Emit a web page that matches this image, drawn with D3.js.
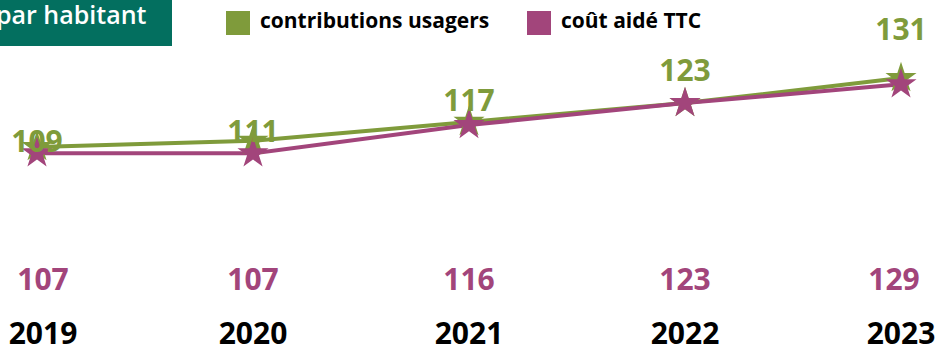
<!DOCTYPE html>
<html>
<head>
<meta charset="utf-8">
<script src="https://cdn.jsdelivr.net/npm/d3@7"></script>
<style>
  body { margin: 0; background: #fff; }
  svg { display: block; font-family: "Open Sans", sans-serif; }
</style>
</head>
<body>
<svg id="chart" width="935" height="351"></svg>
<script>
/* Data */
const years = ['2019', '2020', '2021', '2022', '2023'];
const contributions = [109, 111, 117, 123, 131];   // contributions usagers
const coutAide = [107, 107, 116, 123, 129];        // coût aidé TTC
const seriesNames = ['contributions usagers', 'coût aidé TTC'];

const green = '#7f9b3b';
const purple = '#a2457b';
const teal = '#036f5f';

const width = 935, height = 351;
const svg = d3.select('#chart');

/* Scales */
const x = d3.scalePoint().domain(years).range([37, 901]);
const y = d3.scaleLinear().domain([109, 131]).range([147, 78]);
// the value labels above the green line sit on their own spread
const labelY = d3.scaleLinear().domain(d3.extent(contributions)).range([152, 40]);

/* Title box */
svg.append('rect')
    .attr('x', 0).attr('y', 0)
    .attr('width', 172).attr('height', 46)
    .attr('fill', teal);
svg.append('text')
    .attr('x', -4).attr('y', 24)
    .attr('fill', '#fff')
    .style('font-weight', 600)
    .style('font-size', '25px')
    .text('par habitant');

/* Legend */
const legend = svg.append('g');
const legendItems = [
    { name: seriesNames[0], color: green, x: 226 },
    { name: seriesNames[1], color: purple, x: 527 }
];
legendItems.forEach(d => {
    legend.append('rect')
        .attr('x', d.x).attr('y', 11)
        .attr('width', 24).attr('height', 24)
        .attr('fill', d.color);
    legend.append('text')
        .attr('x', d.x + 34).attr('y', 28)
        .attr('fill', '#000')
        .style('font-weight', 700)
        .style('font-size', '21px')
        .text(d.name);
});

/* Lines */
const line = d3.line()
    .x((d, i) => x(years[i]))
    .y(d => y(d));

const star = d3.symbol().type(d3.symbolStar).size(300);

const drawSeries = (values, color) => {
    svg.append('path')
        .datum(values)
        .attr('d', line)
        .attr('fill', 'none')
        .attr('stroke', color)
        .attr('stroke-width', 4);
};

const drawStars = (values, color) => {
    svg.append('g').selectAll('path')
        .data(values)
        .join('path')
        .attr('transform', (d, i) => `translate(${x(years[i])},${y(d)})`)
        .attr('d', star)
        .attr('fill', color);
};

drawSeries(contributions, green);
drawSeries(coutAide, purple);
drawStars(contributions, green);
drawStars(coutAide, purple);

/* Value labels */
svg.append('g').selectAll('text')
    .data(contributions)
    .join('text')
    .attr('x', (d, i) => x(years[i]))
    .attr('y', d => labelY(d))
    .attr('text-anchor', 'middle')
    .attr('fill', green)
    .style('font-weight', 700)
    .style('font-size', '30px')
    .text(d => d);

svg.append('g').selectAll('text')
    .data(coutAide)
    .join('text')
    .attr('x', (d, i) => Math.min(Math.max(x(years[i]), 43), 894))
    .attr('y', 290)
    .attr('text-anchor', 'middle')
    .attr('fill', purple)
    .style('font-weight', 700)
    .style('font-size', '30px')
    .text(d => d);

/* X axis labels */
svg.append('g').selectAll('text')
    .data(years)
    .join('text')
    .attr('x', d => Math.max(x(d), 43))
    .attr('y', 344)
    .attr('text-anchor', 'middle')
    .attr('fill', '#000')
    .style('font-weight', 700)
    .style('font-size', '30px')
    .text(d => d);
</script>
</body>
</html>
